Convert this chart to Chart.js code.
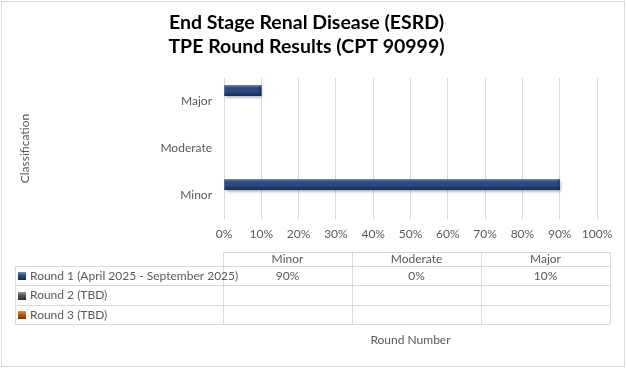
<!DOCTYPE html>
<html>
<head>
<meta charset="utf-8">
<script src="https://cdn.jsdelivr.net/npm/chart.js@4"></script>
<style>
  html, body { margin: 0; padding: 0; background: #ffffff; }
  #wrap { width: 626px; height: 368px; position: relative; }
</style>
</head>
<body>
<div id="wrap"><canvas id="c" width="626" height="368"></canvas></div>
<script>
// ---- data ----
const categories = ['Minor', 'Moderate', 'Major'];
const seriesNames = ['Round 1 (April 2025 - September 2025)', 'Round 2 (TBD)', 'Round 3 (TBD)'];
const round1 = [90, 0, 10];
const round2 = [null, null, null];
const round3 = [null, null, null];
const xTickValues = [0, 10, 20, 30, 40, 50, 60, 70, 80, 90, 100];
const titleLines = ['End Stage Renal Disease (ESRD)', 'TPE Round Results (CPT 90999)'];
const yAxisTitle = 'Classification';
const xAxisTitle = 'Round Number';

const seriesValues = [round1, round2, round3];
const seriesColors = ['#2b4a82', '#595959', '#c55a11'];
const seriesLight = ['#6d8fc6', '#9a9a9a', '#f08a45'];
const seriesDark = ['#152a52', '#2e2e2e', '#7a3408'];

const FONT = 'Lato, "Noto Sans", sans-serif';
const TXT = '#595959';

const fmt = v => (v === null || v === undefined) ? '' : v + '%';

const decor = {
  id: 'decor',
  beforeDraw(chart) {
    const ctx = chart.ctx;
    ctx.save();
    ctx.fillStyle = '#ffffff';
    ctx.fillRect(0, 0, chart.width, chart.height);
    ctx.strokeStyle = '#d9d9d9';
    ctx.lineWidth = 1;
    ctx.strokeRect(1.5, 1.5, chart.width - 3, chart.height - 3);
    ctx.restore();
  },
  beforeDatasetsDraw(chart) {
    const ctx = chart.ctx;
    ctx.save();
    ctx.shadowColor = 'rgba(0,0,0,0.35)';
    ctx.shadowBlur = 3;
    ctx.shadowOffsetX = 1;
    ctx.shadowOffsetY = 2;
  },
  afterDatasetsDraw(chart) {
    const ctx = chart.ctx;
    ctx.restore();
    // bevel overlay on bars
    chart.data.datasets.forEach((ds, di) => {
      const meta = chart.getDatasetMeta(di);
      meta.data.forEach((el, i) => {
        if (ds.data[i] === null || ds.data[i] === undefined) return;
        const p = el.getProps(['x', 'y', 'base', 'height'], true);
        const l = Math.min(p.x, p.base), r = Math.max(p.x, p.base);
        if (r - l < 1) return;
        const t = p.y - p.height / 2, b = p.y + p.height / 2;
        const g = ctx.createLinearGradient(0, t, 0, b);
        g.addColorStop(0, seriesLight[di]);
        g.addColorStop(0.25, seriesColors[di]);
        g.addColorStop(0.6, seriesColors[di]);
        g.addColorStop(1, seriesDark[di]);
        ctx.save();
        ctx.fillStyle = g;
        ctx.fillRect(l, t, r - l, b - t);
        // right-end bevel
        const eg = ctx.createLinearGradient(r - 3, 0, r, 0);
        eg.addColorStop(0, 'rgba(0,0,0,0)');
        eg.addColorStop(1, 'rgba(0,0,0,0.35)');
        ctx.fillStyle = eg;
        ctx.fillRect(r - 3, t, 3, b - t);
        ctx.restore();
      });
    });
  },
  afterDraw(chart) {
    const ctx = chart.ctx;
    ctx.save();
    const colX = [223, 352, 481, 610];
    const leftX = 15;
    const rowY = [252, 266, 285, 305, 324];
    ctx.strokeStyle = '#d9d9d9';
    ctx.lineWidth = 1;
    ctx.beginPath();
    // header top line
    ctx.moveTo(colX[0], rowY[0] + 0.5); ctx.lineTo(colX[3], rowY[0] + 0.5);
    // data row lines
    for (let k = 1; k < rowY.length; k++) {
      ctx.moveTo(leftX, rowY[k] + 0.5); ctx.lineTo(colX[3], rowY[k] + 0.5);
    }
    // vertical lines
    colX.forEach(x => { ctx.moveTo(x + 0.5, rowY[0]); ctx.lineTo(x + 0.5, rowY[4]); });
    ctx.moveTo(leftX + 0.5, rowY[1]); ctx.lineTo(leftX + 0.5, rowY[4]);
    ctx.stroke();

    ctx.font = '12px ' + FONT;
    ctx.fillStyle = TXT;
    ctx.textBaseline = 'middle';
    ctx.textAlign = 'center';
    categories.forEach((c, j) => {
      ctx.fillText(c, (colX[j] + colX[j + 1]) / 2, (rowY[0] + rowY[1]) / 2 + 0.5);
    });
    seriesNames.forEach((name, si) => {
      const cy = (rowY[si + 1] + rowY[si + 2]) / 2 + 0.5;
      // legend key
      const kx = 18, ky = Math.round(cy) - 4, ks = 8;
      const g = ctx.createLinearGradient(0, ky, 0, ky + ks);
      g.addColorStop(0, seriesLight[si]);
      g.addColorStop(0.4, seriesColors[si]);
      g.addColorStop(1, seriesDark[si]);
      ctx.fillStyle = g;
      ctx.fillRect(kx, ky, ks, ks);
      ctx.fillStyle = TXT;
      ctx.textAlign = 'left';
      ctx.fillText(name, 30, cy);
      ctx.textAlign = 'center';
      seriesValues[si].forEach((v, j) => {
        ctx.fillText(fmt(v), (colX[j] + colX[j + 1]) / 2, cy);
      });
    });
    // axis title under table
    const ca = chart.chartArea;
    ctx.fillText(xAxisTitle, (ca.left + ca.right) / 2, 340);
    ctx.restore();
  }
};

new Chart(document.getElementById('c'), {
  type: 'bar',
  data: {
    labels: categories,
    datasets: seriesNames.map((n, i) => ({
      label: n,
      data: seriesValues[i],
      backgroundColor: seriesColors[i],
      borderWidth: 0,
      categoryPercentage: 0.7,
      barPercentage: 1.0
    }))
  },
  options: {
    indexAxis: 'y',
    responsive: false,
    animation: false,
    devicePixelRatio: 1,
    layout: { padding: { left: 16, right: 29, top: 0, bottom: 120 } },
    plugins: {
      legend: { display: false },
      tooltip: { enabled: false },
      title: {
        display: true,
        text: titleLines,
        color: '#000000',
        font: { family: FONT, size: 19.5, weight: 'bold', lineHeight: '24px' },
        padding: { top: 11, bottom: 19 }
      }
    },
    scales: {
      x: {
        min: 0,
        max: 100,
        afterBuildTicks(scale) { scale.ticks = xTickValues.map(v => ({ value: v })); },
        afterFit(scale) { scale.height = 29; },
        ticks: {
          color: TXT,
          font: { family: FONT, size: 12 },
          padding: 8,
          callback: v => v + '%',
          maxRotation: 0
        },
        grid: { color: '#d9d9d9', drawTicks: false },
        border: { display: false }
      },
      y: {
        reverse: true,
        afterFit(scale) { scale.width = 208; },
        ticks: {
          color: TXT,
          font: { family: FONT, size: 12 },
          padding: 12
        },
        grid: { display: false, drawTicks: false },
        border: { display: false },
        title: {
          display: true,
          text: yAxisTitle,
          color: TXT,
          font: { family: FONT, size: 12 },
          padding: { top: 2, bottom: 0 }
        }
      }
    }
  },
  plugins: [decor]
});
</script>
</body>
</html>
